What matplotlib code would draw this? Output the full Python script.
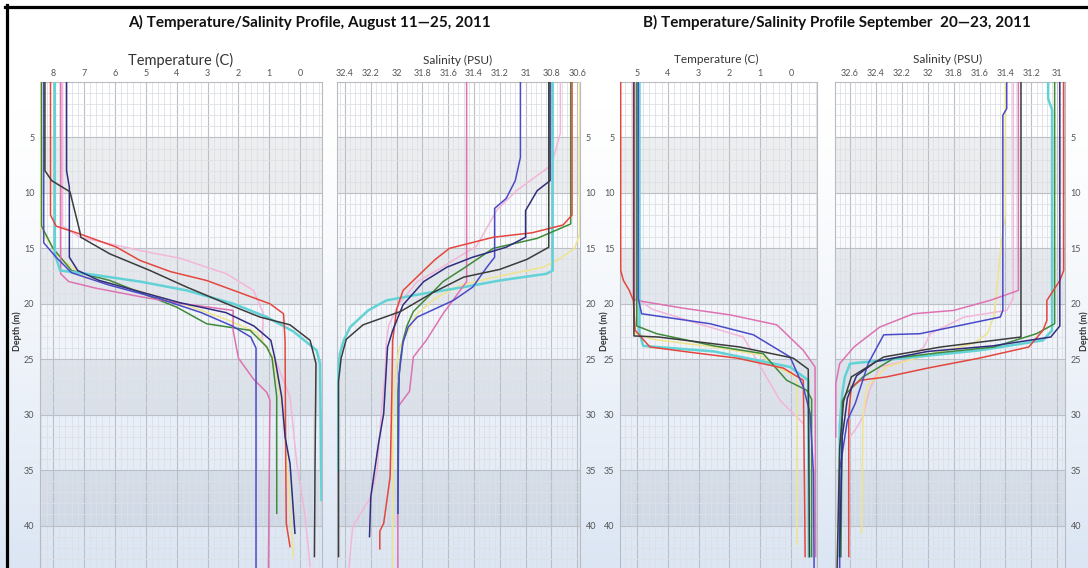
import numpy as np
import matplotlib
matplotlib.use("Agg")
import matplotlib.pyplot as plt
from matplotlib.lines import Line2D
from matplotlib.ticker import FixedLocator, MultipleLocator

plt.rcParams['font.family'] = ['Lato', 'DejaVu Sans']

# ---------------- data: (value, depth m) ----------------
# A) August temperature (C)
at_green = [(8.37, 0), (8.37, 13.0), (8.0, 15.0), (7.4, 17.0), (6.16, 17.9), (4.0, 20.3), (3.03, 21.8),
            (1.62, 22.4), (1.08, 23.9), (0.91, 24.9), (0.76, 28.4), (0.76, 38.9)]
at_yellow = [(8.40, 0), (8.40, 13.2), (7.9, 15.5), (7.0, 17.6), (5.5, 18.6), (3.8, 20.0), (2.4, 21.4),
             (1.4, 22.6), (0.87, 24.9), (0.54, 30.0), (0.22, 42.8)]
at_red = [(8.08, 0), (8.08, 12.0), (7.9, 13.0), (7.13, 13.7), (5.94, 14.9), (5.18, 16.1), (4.2, 17.1),
          (3.03, 17.9), (0.98, 20.0), (0.54, 20.9), (0.49, 23.3), (0.47, 34.0), (0.45, 39.8), (0.33, 41.9)]
at_black = [(8.26, 0), (8.26, 8.0), (8.04, 8.9), (7.45, 9.9), (7.13, 13.5), (7.1, 14.0), (6.16, 15.5),
            (4.86, 17.0), (3.67, 18.5), (2.38, 20.0), (1.3, 21.2), (0.33, 21.9), (-0.32, 23.3),
            (-0.51, 25.4), (-0.48, 34.4), (-0.46, 42.8)]
at_navy = [(7.56, 0), (7.56, 8.0), (7.47, 9.5), (7.47, 15.8), (7.2, 17.0), (6.5, 17.9), (5.2, 18.9),
           (3.9, 19.9), (2.4, 20.8), (1.5, 22.0), (0.95, 23.3), (0.82, 24.9), (0.6, 28.4), (0.49, 32.0),
           (0.33, 34.4), (0.17, 40.7)]
at_blue = [(8.3, 0), (8.3, 14.5), (7.9, 15.8), (7.4, 17.2), (6.2, 18.3), (4.6, 19.5), (3.2, 20.8),
           (2.2, 22.0), (1.6, 23.0), (1.43, 24.0), (1.43, 44.0)]
at_cyan = [(7.94, 0), (7.94, 15.5), (7.77, 17.0), (6.9, 17.3), (5.18, 18.0), (3.67, 18.8), (2.16, 20.0),
           (1.08, 21.2), (0.22, 22.5), (-0.53, 24.2), (-0.64, 25.4), (-0.69, 37.7)]
at_pink = [(7.75, 0), (7.75, 17.3), (7.49, 18.0), (6.6, 18.6), (5.1, 19.4), (3.8, 20.0), (2.17, 20.6),
           (2.17, 22.4), (2.0, 24.9), (1.51, 26.8), (1.08, 28.0), (0.98, 28.7), (1.03, 44.0)]
at_lightpink = [(7.69, 0), (7.69, 13.0), (7.13, 14.0), (5.18, 15.2), (3.89, 15.9), (2.38, 17.3), (1.51, 18.8),
                (1.19, 20.9), (1.24, 23.3), (0.76, 25.4), (0.33, 28.4), (0.11, 34.4), (-0.16, 39.2),
                (-0.32, 43.7)]

# A) August salinity (PSU)
as_pink = [(31.457, 0), (31.457, 18.0), (31.64, 20.9), (31.77, 23.3), (31.87, 24.8), (31.9, 27.9),
           (31.99, 29.3), (31.99, 44.0)]
as_blue = [(31.04, 0), (31.04, 6.8), (31.08, 8.9), (31.15, 10.5), (31.24, 11.4), (31.24, 15.8), (31.3, 16.7),
           (31.41, 18.5), (31.56, 19.7), (31.84, 21.2), (31.91, 22.1), (31.95, 23.5), (31.98, 26.3),
           (31.99, 38.9)]
as_black = [(30.82, 0), (30.82, 14.9), (30.99, 16.0), (31.2, 16.9), (31.48, 17.6), (31.72, 19.0), (31.97, 20.7),
            (32.26, 21.9), (32.39, 23.2), (32.43, 24.9), (32.45, 27.0), (32.45, 42.8)]
as_navy = [(30.81, 0), (30.81, 8.9), (30.91, 9.8), (31.0, 11.6), (31.0, 14.0), (31.15, 14.9), (31.41, 15.8),
           (31.61, 16.7), (31.79, 18.0), (31.95, 20.1), (32.03, 22.4), (32.07, 23.9), (32.1, 29.9),
           (32.14, 32.6), (32.2, 37.4), (32.21, 41.0)]
as_red = [(30.64, 0), (30.64, 12.0), (30.71, 12.9), (30.95, 13.6), (31.25, 14.0), (31.59, 15.0), (31.7, 16.0),
          (31.79, 17.0), (31.95, 18.8), (32.0, 20.5), (32.03, 23.3), (32.04, 30.0), (32.05, 35.6),
          (32.1, 39.8), (32.13, 40.5), (32.13, 42.1)]
as_green = [(30.65, 0), (30.65, 12.8), (30.91, 14.1), (31.25, 15.0), (31.48, 16.8), (31.64, 18.0), (31.74, 19.2),
            (31.87, 20.7), (31.92, 22.0), (31.95, 23.3), (31.97, 25.0), (31.99, 28.0), (31.99, 38.9)]
as_cyan = [(30.79, 0), (30.79, 17.0), (30.84, 17.3), (31.2, 17.9), (31.48, 18.5), (31.8, 19.1), (32.08, 19.7),
           (32.22, 20.6), (32.36, 22.1), (32.41, 23.3), (32.44, 24.5), (32.46, 27.0), (32.46, 35.0)]
as_lightpink = [(30.73, 0), (30.73, 4.6), (30.8, 7.5), (31.07, 9.8), (31.22, 11.5), (31.38, 14.8), (31.55, 16.0),
                (31.66, 16.8), (31.84, 18.0), (31.98, 20.0), (32.06, 21.9), (32.08, 23.5), (32.09, 26.4),
                (32.12, 30.0), (32.15, 35.0), (32.2, 37.4), (32.34, 40.1), (32.37, 43.8)]
as_yellow = [(30.58, 0), (30.58, 13.7), (30.62, 15.0), (30.73, 15.9), (30.86, 16.7), (31.2, 17.5), (31.5, 18.3),
             (31.7, 19.5), (31.85, 21.0), (31.9, 22.2), (31.98, 24.0), (32.02, 27.0), (32.03, 30.0),
             (32.03, 44.0)]

# B) September temperature (C)
bt_red = [(5.53, 0), (5.53, 17.0), (5.44, 17.9), (5.25, 18.8), (5.12, 19.7), (5.06, 22.4), (4.58, 23.9),
          (3.2, 24.4), (1.76, 24.9), (0.25, 25.8), (-0.40, 26.9), (-0.46, 42.8)]
bt_pink = [(5.12, 0), (5.12, 19.6), (4.8, 19.8), (3.5, 20.4), (1.98, 21.0), (0.46, 21.9), (-0.40, 24.2),
           (-0.78, 25.7), (-0.8, 42.8)]
bt_black = [(5.1, 0), (5.1, 22.9), (4.3, 23.0), (1.66, 23.9), (-0.07, 24.9), (-0.56, 25.9), (-0.6, 42.8)]
bt_blue = [(4.96, 0), (4.96, 19.5), (4.85, 20.9), (2.63, 21.8), (1.22, 22.8), (0.03, 24.8), (-0.40, 27.5),
           (-0.62, 29.9), (-0.73, 35.3), (-0.75, 44.0)]
bt_cyan = [(4.92, 0), (4.92, 22.6), (4.8, 23.8), (2.5, 24.3), (0.03, 25.7), (-0.56, 26.9), (-0.58, 42.8)]
bt_green = [(5.01, 0), (5.01, 22.0), (4.36, 22.7), (2.5, 23.8), (0.90, 24.5), (0.14, 26.9), (-0.51, 27.8),
            (-0.67, 28.6), (-0.67, 42.8)]
bt_yellow = [(5.1, 0), (5.1, 22.6), (4.5, 23.2), (2.5, 23.9), (1.0, 24.6), (0.46, 25.7), (-0.19, 26.6),
             (-0.19, 41.7)]
bt_lightpink = [(5.05, 0), (5.05, 19.5), (4.5, 20.5), (3.0, 21.8), (1.55, 23.0), (1.11, 25.1), (0.36, 28.7),
                (-0.40, 30.8)]

# B) September salinity (PSU)
bs_red = [(30.95, 0), (30.95, 17.0), (30.98, 17.9), (31.03, 18.8), (31.08, 19.7), (31.08, 21.5), (31.11, 22.4),
          (31.22, 23.9), (31.6, 24.9), (32.0, 25.8), (32.32, 26.6), (32.52, 26.9), (32.59, 27.5),
          (32.61, 29.9), (32.61, 42.8)]
bs_black = [(31.28, 0), (31.28, 23.0), (31.9, 23.9), (32.34, 24.8), (32.59, 26.6), (32.65, 28.8),
            (32.68, 33.0), (32.70, 44.0)]
bs_navy = [(30.98, 0), (30.98, 22.0), (31.05, 23.0), (31.5, 23.8), (32.0, 24.3), (32.4, 25.2), (32.55, 26.5),
           (32.62, 28.5), (32.66, 32.0), (32.68, 42.8)]
bs_blue = [(31.39, 0), (31.39, 2.4), (31.42, 3.0), (31.42, 20.6), (31.44, 21.2), (32.06, 22.7), (32.34, 22.8),
           (32.46, 25.4), (32.56, 29.0), (32.62, 30.5), (32.68, 35.0), (32.68, 44.0)]
bs_pink = [(31.3, 0), (31.3, 18.8), (31.52, 19.7), (31.8, 20.6), (32.11, 20.9), (32.37, 22.1), (32.57, 23.9),
           (32.68, 25.4), (32.71, 27.2), (32.71, 32.0)]
bs_lightpink = [(31.34, 0), (31.34, 19.5), (31.39, 20.6), (31.72, 21.2), (31.98, 22.7), (32.03, 23.9),
                (32.16, 25.1), (32.37, 25.7), (32.45, 27.8), (32.5, 30.2), (32.55, 31.2), (32.6, 32.0)]
bs_yellow = [(31.4, 0), (31.4, 12.0), (31.43, 14.3), (31.47, 19.1), (31.49, 21.2), (31.54, 22.7), (31.65, 23.6),
             (32.0, 24.6), (32.32, 25.7), (32.47, 27.5), (32.5, 30.2), (32.51, 40.7)]
bs_cyan = [(31.07, 0), (31.07, 1.5), (31.04, 2.5), (31.04, 22.4), (31.11, 23.3), (31.6, 24.2), (32.1, 24.8),
           (32.6, 25.4), (32.64, 26.6), (32.66, 28.1), (32.68, 31.0), (32.68, 42.8)]
bs_green = [(31.02, 0), (31.02, 21.8), (31.16, 22.7), (31.49, 23.9), (31.9, 24.4), (32.26, 24.9), (32.5, 26.6),
            (32.63, 28.1), (32.66, 28.8), (32.67, 42.8)]

# axis ticks
temp_ticks_a = [8, 7, 6, 5, 4, 3, 2, 1, 0]
sal_ticks_a = [32.4, 32.2, 32.0, 31.8, 31.6, 31.4, 31.2, 31.0, 30.8, 30.6]
temp_ticks_b = [5, 4, 3, 2, 1, 0]
sal_ticks_b = [32.6, 32.4, 32.2, 32.0, 31.8, 31.6, 31.4, 31.2, 31.0]
depth_ticks = [5, 10, 15, 20, 25, 30, 35, 40]

# ---------------- style ----------------
colors = {'red': '#e4463e', 'navy': '#302c7e', 'blue': '#4a4ac8', 'black': '#3c3c3c', 'cyan': '#62d2d6',
          'green': '#3f8a3a', 'pink': '#de72b2', 'lightpink': '#f3b6da', 'yellow': '#efe48c'}

W, H = 1088, 568
fig = plt.figure(figsize=(W / 100, H / 100), dpi=100)


def px(x0, y0, x1, y1):
    # pixel box (left, top, right, bottom) -> figure fraction rect
    return [x0 / W, 1 - y1 / H, (x1 - x0) / W, (y1 - y0) / H]


# background gradient (white at top, pale blue at bottom)
bg = fig.add_axes([0, 0, 1, 1], zorder=-10)
yy = np.linspace(0, 1, 300)[:, None]
t = np.clip((yy * H - 110) / (H - 110), 0, 1) ** 1.3
top_c = np.array([1.0, 1.0, 1.0])
bot_c = np.array([0.86, 0.90, 0.955])
grad = top_c * (1 - t[..., None]) + bot_c * t[..., None]
bg.imshow(grad, aspect='auto', extent=[0, 1, 0, 1], origin='upper')
bg.axis('off')

DEPTH_MAX = 43.83


def draw_panel(rect, lines, xlim, ticks, minor, yside):
    ax = fig.add_axes(rect)
    ax.set_facecolor('none')
    ax.set_xlim(*xlim)
    ax.set_ylim(DEPTH_MAX, 0)
    for lo, hi in [(5, 10), (15, 20), (25, 30), (35, 40)]:
        ax.axhspan(lo, hi, color='#1a2a40', alpha=0.075, lw=0, zorder=0)
    ax.xaxis.set_major_locator(FixedLocator(ticks))
    ax.set_xticklabels(['{:g}'.format(v) for v in ticks])
    ax.xaxis.set_minor_locator(MultipleLocator(minor))
    ax.yaxis.set_major_locator(FixedLocator(depth_ticks))
    ax.yaxis.set_minor_locator(MultipleLocator(1))
    ax.grid(which='major', color='#bcc0c6', lw=0.8, zorder=1)
    ax.grid(which='minor', color='#dde0e5', lw=0.6, zorder=1)
    ax.set_axisbelow(True)
    ax.xaxis.tick_top()
    ax.tick_params(axis='x', which='both', length=0, pad=3, labelsize=6.5, labelcolor='#555555')
    if yside == 'right':
        ax.yaxis.tick_right()
    ax.tick_params(axis='y', which='both', length=0, pad=4, labelsize=6.5, labelcolor='#555555')
    for s in ax.spines.values():
        s.set_color('#b8bcc2')
        s.set_linewidth(0.8)
    ax.spines['bottom'].set_visible(False)
    for name, pts in lines.items():
        xs, ds = zip(*pts)
        ax.plot(xs, ds, color=colors[name], lw=1.8 if name == 'cyan' else 1.1, zorder=3)
    return ax


draw_panel(px(40, 82, 322, 568),
           {'lightpink': at_lightpink, 'yellow': at_yellow, 'green': at_green, 'pink': at_pink, 'cyan': at_cyan,
            'blue': at_blue, 'red': at_red, 'navy': at_navy, 'black': at_black},
           (8.42, -0.705), temp_ticks_a, 0.2, 'left')
draw_panel(px(337, 82, 580, 568),
           {'lightpink': as_lightpink, 'yellow': as_yellow, 'cyan': as_cyan, 'pink': as_pink, 'green': as_green,
            'blue': as_blue, 'red': as_red, 'navy': as_navy, 'black': as_black},
           (32.462, 30.578), sal_ticks_a, 0.04, 'right')
draw_panel(px(620, 82, 817, 568),
           {'lightpink': bt_lightpink, 'yellow': bt_yellow, 'pink': bt_pink, 'cyan': bt_cyan, 'green': bt_green,
            'red': bt_red, 'blue': bt_blue, 'black': bt_black},
           (5.552, -0.844), temp_ticks_b, 0.2, 'left')
draw_panel(px(835, 82, 1065, 568),
           {'lightpink': bs_lightpink, 'yellow': bs_yellow, 'pink': bs_pink, 'cyan': bs_cyan, 'green': bs_green,
            'red': bs_red, 'blue': bs_blue, 'navy': bs_navy, 'black': bs_black},
           (32.716, 30.94), sal_ticks_b, 0.04, 'right')

# titles
fig.text(309 / W, 1 - 22 / H, 'A) Temperature/Salinity Profile, August 11\u201425, 2011',
         ha='center', va='center', fontsize=11, fontweight='bold', color='#111111')
fig.text(837 / W, 1 - 22 / H, 'B) Temperature/Salinity Profile September  20\u201423, 2011',
         ha='center', va='center', fontsize=11, fontweight='bold', color='#111111')

# axis titles
fig.text(181 / W, 1 - 60 / H, 'Temperature (C)', ha='center', va='center', fontsize=10.5, color='#333333')
fig.text(458 / W, 1 - 60 / H, 'Salinity (PSU)', ha='center', va='center', fontsize=8.5, color='#333333')
fig.text(716 / W, 1 - 59 / H, 'Temperature (C)', ha='center', va='center', fontsize=8.5, color='#333333')
fig.text(948 / W, 1 - 59 / H, 'Salinity (PSU)', ha='center', va='center', fontsize=8.5, color='#333333')

# depth labels
for xp in [17, 604, 1084]:
    fig.text(xp / W, 1 - 331 / H, 'Depth (m)', rotation=90, ha='center', va='center',
             fontsize=6.5, fontweight='bold', color='#333333')

# black frame on top and left edges
fig.add_artist(Line2D([5 / W, 1], [1 - 6.5 / H] * 2, transform=fig.transFigure, color='black', lw=2.3))
fig.add_artist(Line2D([6.5 / W] * 2, [0, 1 - 5 / H], transform=fig.transFigure, color='black', lw=2.3))

fig.savefig('out.png', dpi=100)
